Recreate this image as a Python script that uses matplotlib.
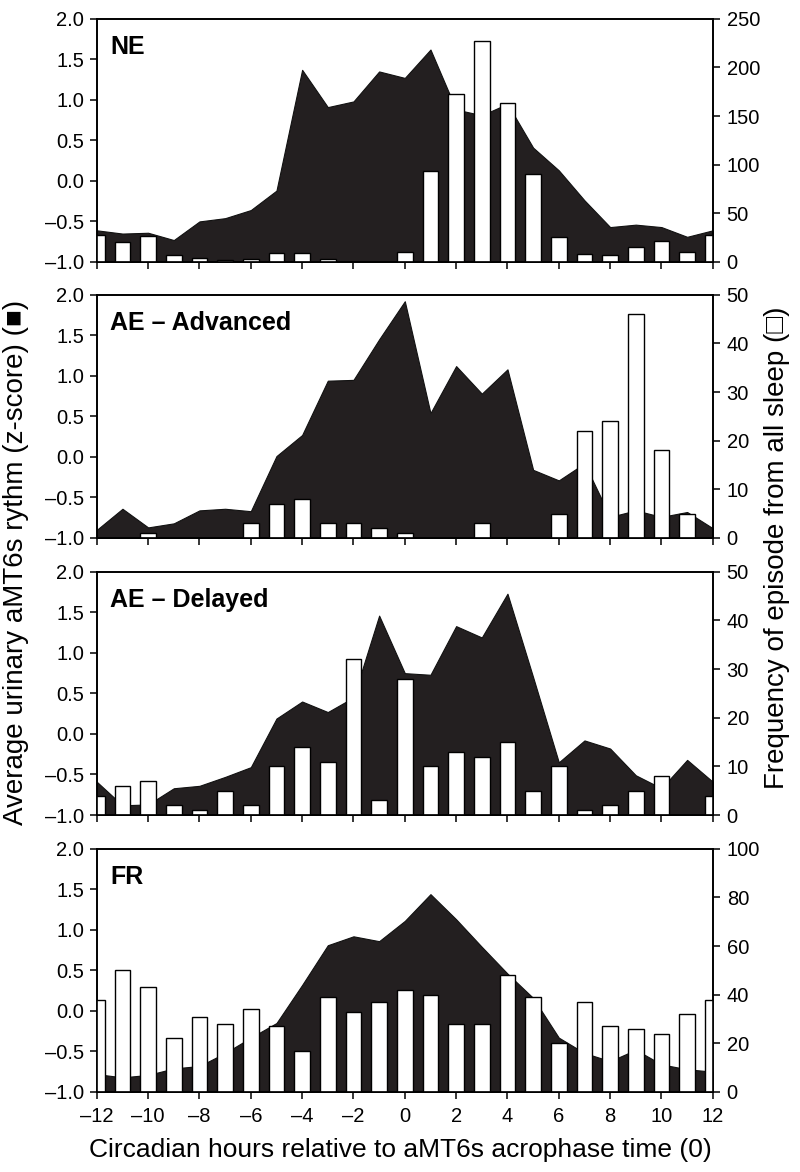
import numpy as np
import matplotlib
matplotlib.use('Agg')
import matplotlib.pyplot as plt

plt.rcParams['font.family'] = ['Liberation Sans', 'DejaVu Sans']

# hours relative to aMT6s acrophase
hours = np.arange(-12, 13)

# --- z-score rhythm (black area), one value per hour ---
ne_z = [-0.61, -0.65, -0.64, -0.73, -0.50, -0.46, -0.36, -0.12, 1.37, 0.91, 0.98, 1.35, 1.27,
        1.62, 0.88, 0.81, 0.95, 0.41, 0.13, -0.24, -0.57, -0.54, -0.57, -0.69, -0.61]
adv_z = [-0.90, -0.64, -0.87, -0.82, -0.66, -0.64, -0.67, 0.01, 0.27, 0.94, 0.95, 1.45, 1.92,
         0.54, 1.12, 0.78, 1.08, -0.16, -0.29, -0.08, -0.74, -0.66, -0.74, -0.68, -0.88]
del_z = [-0.59, -0.88, -0.87, -0.67, -0.64, -0.53, -0.41, 0.19, 0.40, 0.27, 0.45, 1.46, 0.75,
         0.73, 1.33, 1.19, 1.73, 0.70, -0.35, -0.08, -0.18, -0.51, -0.67, -0.32, -0.59]
fr_z = [-0.78, -0.82, -0.79, -0.71, -0.68, -0.52, -0.33, -0.15, 0.32, 0.81, 0.92, 0.86, 1.11,
        1.44, 1.13, 0.79, 0.46, 0.16, -0.33, -0.52, -0.62, -0.48, -0.66, -0.72, -0.75]

# --- frequency of sleep episodes (white bars) ---
ne_freq = [28, 20, 27, 7, 4, 2, 3, 9, 9, 3, 0, 0, 10,
           94, 173, 227, 163, 90, 26, 8, 7, 15, 22, 10, 28]
adv_freq = [0, 0, 1, 0, 0, 0, 3, 7, 8, 3, 3, 2, 1,
            0, 0, 3, 0, 0, 5, 22, 24, 46, 18, 5, 0]
del_freq = [4, 6, 7, 2, 1, 5, 2, 10, 14, 11, 32, 3, 28,
            10, 13, 12, 15, 5, 10, 1, 2, 5, 8, 0, 4]
fr_freq = [38, 50, 43, 22, 31, 28, 34, 27, 17, 39, 33, 37, 42,
           40, 28, 28, 48, 39, 20, 37, 27, 26, 24, 32, 38]

panel_names = ['NE', 'AE \u2013 Advanced', 'AE \u2013 Delayed', 'FR']
right_max = [250, 50, 50, 100]
right_step = [50, 10, 10, 20]

panels = [(ne_z, ne_freq), (adv_z, adv_freq), (del_z, del_freq), (fr_z, fr_freq)]

fig = plt.figure(figsize=(8, 11.72), dpi=100)

left, width = 0.121, 0.770
bottoms = [0.7765, 0.541, 0.3046, 0.0683]
height = 0.2075
TICK_FS = 14.5

for i, ((z, freq), name) in enumerate(zip(panels, panel_names)):
    ax = fig.add_axes([left, bottoms[i], width, height])
    ax.fill_between(hours, -1, z, color='#231f20', edgecolor='#111111', linewidth=0.8)
    ax.set_xlim(-12, 12)
    ax.set_ylim(-1, 2)
    yt = np.arange(-1, 2.01, 0.5)
    ax.set_yticks(yt)
    ax.set_yticklabels([f'{v:.1f}'.replace('-', '\u2013') for v in yt])
    ax.set_xticks(np.arange(-12, 13, 2))
    if i == 3:
        ax.set_xticklabels([str(v).replace('-', '\u2013') for v in range(-12, 13, 2)])
    else:
        ax.set_xticklabels([])
    ax.tick_params(axis='y', direction='out', length=5, width=1.1, labelsize=TICK_FS, pad=4)
    ax.tick_params(axis='x', direction='out', length=5, width=1.1, labelsize=TICK_FS, pad=6)
    for sp in ax.spines.values():
        sp.set_linewidth(1.2)

    ax2 = ax.twinx()
    ax2.bar(hours, freq, width=0.62, color='white', edgecolor='black', linewidth=1.0)
    ax2.set_xlim(-12, 12)
    ax2.set_ylim(0, right_max[i])
    ax2.set_yticks(np.arange(0, right_max[i] + 1, right_step[i]))
    ax2.tick_params(direction='out', length=5, width=1.1, labelsize=TICK_FS, pad=5)
    for sp in ax2.spines.values():
        sp.set_linewidth(1.2)

    ax2.text(0.022, 0.935, name, transform=ax.transAxes, fontsize=18, fontweight='bold',
             va='top', ha='left')

fig.text(0.02, 0.52, 'Average urinary aMT6s rythm (z-score) (\u25a0)', rotation=90,
         ha='center', va='center', fontsize=20)
fig.text(0.971, 0.533, 'Frequency of episode from all sleep (\u25a1)', rotation=90,
         ha='center', va='center', fontsize=20)
fig.text(0.5, 0.019, 'Circadian hours relative to aMT6s acrophase time (0)',
         ha='center', va='center', fontsize=19)

fig.savefig('out.png', dpi=100)
